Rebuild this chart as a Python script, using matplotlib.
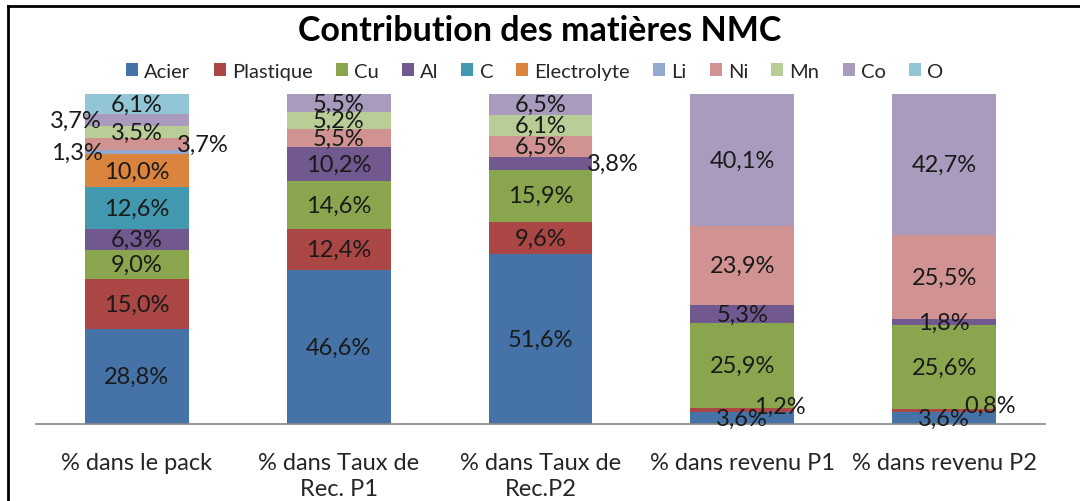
import matplotlib
matplotlib.use("Agg")
import matplotlib.pyplot as plt
from matplotlib.lines import Line2D
import numpy as np

plt.rcParams['font.family'] = ['Lato', 'DejaVu Sans']

# Categories (x axis)
categories = ["% dans le pack", "% dans Taux de\nRec. P1", "% dans Taux de\nRec.P2",
              "% dans revenu P1", "% dans revenu P2"]

# Share of each material per category (%)
acier       = [28.8, 46.6, 51.6, 3.6, 3.6]
plastique   = [15.0, 12.4, 9.6, 1.2, 0.8]
cu          = [9.0, 14.6, 15.9, 25.9, 25.6]
al          = [6.3, 10.2, 3.8, 5.3, 1.8]
c           = [12.6, 0.0, 0.0, 0.0, 0.0]
electrolyte = [10.0, 0.0, 0.0, 0.0, 0.0]
li          = [1.3, 0.0, 0.0, 0.0, 0.0]
ni          = [3.7, 5.5, 6.5, 23.9, 25.5]
mn          = [3.5, 5.2, 6.1, 0.0, 0.0]
co          = [3.7, 5.5, 6.5, 40.1, 42.7]
o           = [6.1, 0.0, 0.0, 0.0, 0.0]

series_names = ["Acier", "Plastique", "Cu", "Al", "C", "Electrolyte", "Li", "Ni", "Mn", "Co", "O"]
series_values = [acier, plastique, cu, al, c, electrolyte, li, ni, mn, co, o]
colors = ["#4572A7", "#AA4643", "#89A54E", "#71588F", "#4198AF", "#DB843D",
          "#93A9CF", "#D19392", "#B9CD96", "#A99BBD", "#92C5D5"]

# Labels nudged sideways (pixels) where a segment is too thin
label_shift = {
    ("Co", 0): (-61, 0), ("Li", 0): (-60, 0), ("Ni", 0): (66, 0),
    ("Al", 2): (72, 0),
    ("Plastique", 3): (38, 4), ("Plastique", 4): (46, 5),
}

fig = plt.figure(figsize=(10.8, 5.02), dpi=100)
ax = fig.add_axes([0.0333, 0.1534, 0.9343, 0.6574])

x = np.arange(len(categories))
bottom = np.zeros(len(categories))
handles = []
for name, vals, col in zip(series_names, series_values, colors):
    vals = np.array(vals)
    bars = ax.bar(x, vals, width=0.515, bottom=bottom, color=col, label=name, linewidth=0)
    handles.append(bars)
    for i, v in enumerate(vals):
        if v > 0:
            dx, dy = label_shift.get((name, i), (0, 0))
            ax.annotate(f"{v:.1f}%".replace(".", ","), (x[i], bottom[i] + v / 2),
                        xytext=(dx * 0.72, dy * 0.72), textcoords="offset points",
                        ha="center", va="center", fontsize=17, color="#1a1a1a")
    bottom += vals

ax.set_xlim(-0.5, len(categories) - 0.5)
ax.set_ylim(0, 100)
ax.set_yticks([])
for side in ("left", "right", "top"):
    ax.spines[side].set_visible(False)
ax.spines["bottom"].set_color("#868686")
ax.spines["bottom"].set_linewidth(1.2)
ax.set_xticks(x)
ax.set_xticklabels(categories, fontsize=17, color="#262626", linespacing=1.3)
ax.tick_params(axis="x", length=0, pad=20)

fig.text(0.5, 0.938, "Contribution des matières NMC", ha="center", va="center",
         fontsize=24.5, fontweight="bold", color="#000000")

fig.legend(handles=handles, labels=series_names, loc="center", bbox_to_anchor=(0.495, 0.856),
           ncol=11, frameon=False, fontsize=14.5, handlelength=0.6, handleheight=0.6,
           handletextpad=0.3, columnspacing=1.15, labelcolor="#262626")

# Outer frame (left and top edges)
fig.add_artist(Line2D([0.0078, 0.0078], [0.0, 0.986], transform=fig.transFigure,
                      color="black", linewidth=2))
fig.add_artist(Line2D([0.0078, 1.0], [0.986, 0.986], transform=fig.transFigure,
                      color="black", linewidth=2))

fig.savefig("out.png", dpi=100, facecolor="white")
